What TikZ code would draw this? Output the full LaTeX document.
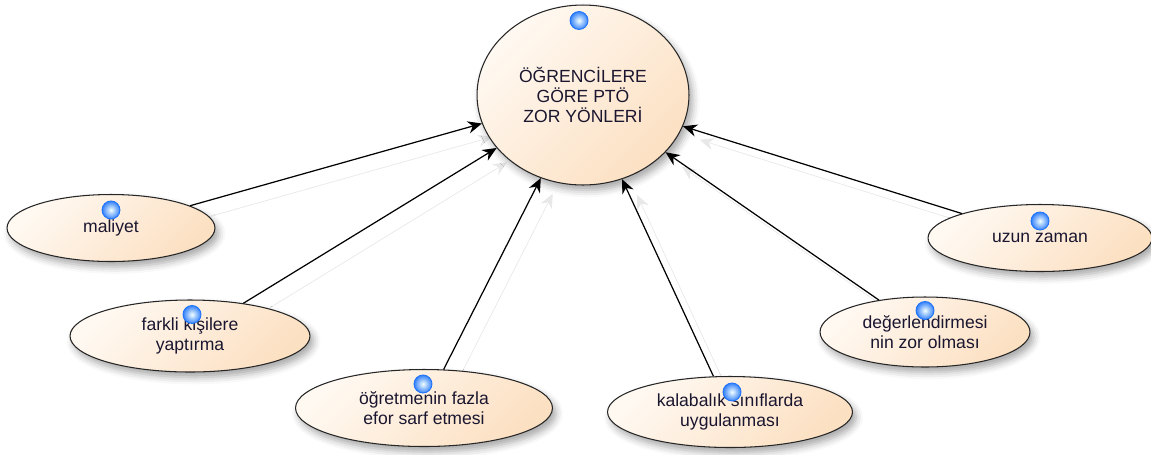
\documentclass[tikz,border=0pt]{standalone}
\usepackage{fontspec}
\setmainfont{Liberation Sans}
\usetikzlibrary{shapes.geometric,shadows.blur,arrows.meta,backgrounds}
\definecolor{peachlight}{RGB}{255,249,242}
\definecolor{peachdark}{RGB}{252,224,194}
\definecolor{inktext}{RGB}{26,22,48}
\definecolor{knobblue}{RGB}{30,115,250}
\begin{document}
\begin{tikzpicture}[x=0.02cm, y=-0.02cm,
    topic/.style={draw=black!85, line width=0.6pt, ellipse, inner sep=0pt,
      top color=peachlight, bottom color=peachdark, shading angle=45,
      blur shadow={shadow xshift=2pt, shadow yshift=-3pt,
        shadow blur radius=4pt, shadow opacity=35},
      text=inktext, align=center, font=\fontsize{10}{11.4}\selectfont},
    knob/.style={circle, inner sep=0pt, minimum size=0.36cm,
      draw=knobblue, line width=0.5pt, inner color=cyan!5,
      outer color=knobblue!90},
    ghost/.style={draw=black!9, shorten >=2pt,
      transform canvas={shift={(0.27cm,-0.25cm)}}}]
  \useasboundingbox (0,0) rectangle (1151,454);
  \begin{scope}[every node/.style={topic}]
    \node [minimum width=4.24cm, minimum height=3.6cm] (zor) at (583,95)
    {ÖĞRENCİLERE\\GÖRE PTÖ\\ZOR YÖNLERİ};
    \node [minimum width=4.16cm, minimum height=1.34cm] (maliyet) at
    (111,228) {maliyet}; \node [minimum width=4.8cm, minimum
    height=1.44cm] (farkli) at (190,336) {farkli kişilere\\yaptırma};
    \node [minimum width=5.14cm, minimum height=1.54cm] (efor) at
    (424,408) {öğretmenin fazla\\efor sarf etmesi}; \node [minimum
    width=4.9cm, minimum height=1.42cm] (kalabalik) at (730,412)
    {kalabalık sınıflarda\\uygulanması}; \node [minimum width=4.2cm,
    minimum height=1.4cm] (deger) at (925,332)
    {değerlendirmesi\\nin zor olması}; \node [minimum width=4.48cm,
    minimum height=1.34cm] (uzun) at (1040,238) {uzun zaman};
  \end{scope}
  % faint copies of the arrows, kept under the ellipses
  \begin{scope}[on background layer, ->, line width=0.7pt,
      >={Stealth[length=8pt, width=7pt]}]
    \draw [ghost] (maliyet) -- (zor); \draw [ghost] (farkli) -- (zor);
    \draw [ghost] (efor) -- (zor); \draw [ghost] (kalabalik) -- (zor);
    \draw [ghost] (deger) -- (zor); \draw [ghost] (uzun) -- (zor);
  \end{scope}
  \begin{scope}[->, line width=0.7pt, >={Stealth[length=8pt, width=7pt]}]
    \draw (maliyet) -- (zor); \draw (farkli) -- (zor);
    \draw (efor) -- (zor); \draw (kalabalik) -- (zor);
    \draw (deger) -- (zor); \draw (uzun) -- (zor);
  \end{scope}
  \begin{scope}[every node/.style={knob}]
    \node (zor-k) at ([shift={(-4,16)}]zor.north) {};
    \node (maliyet-k) at ([shift={(0,16)}]maliyet.north) {};
    \node (farkli-k) at ([shift={(2,15)}]farkli.north) {};
    \node (efor-k) at ([shift={(-1,15)}]efor.north) {};
    \node (kalabalik-k) at ([shift={(2,16)}]kalabalik.north) {};
    \node (deger-k) at ([shift={(0,14)}]deger.north) {};
    \node (uzun-k) at ([shift={(0,17)}]uzun.north) {};
  \end{scope}
\end{tikzpicture}
\end{document}
